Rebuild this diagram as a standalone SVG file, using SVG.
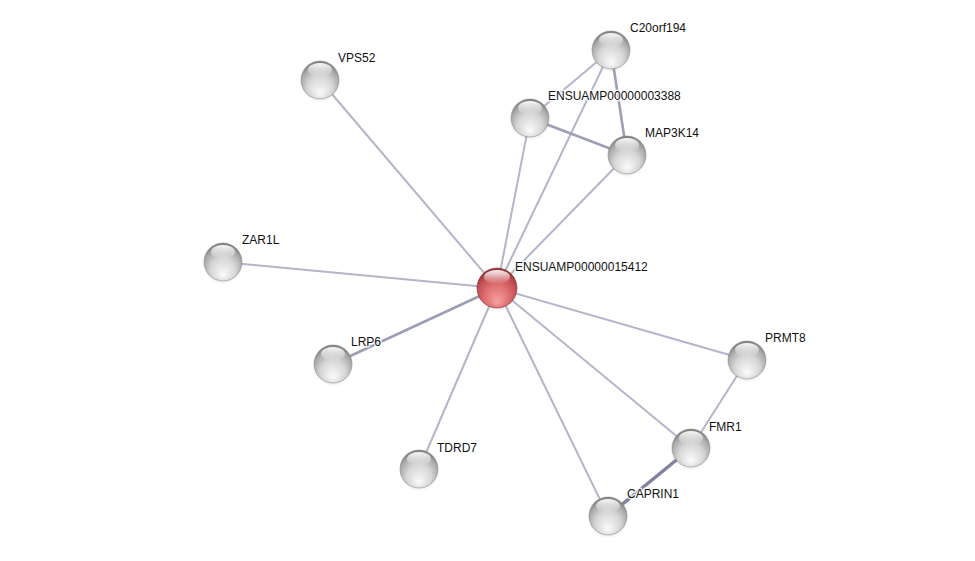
<svg xmlns="http://www.w3.org/2000/svg" width="975" height="561" viewBox="0 0 975 561">
<defs>
<radialGradient id="gBody" cx="0.5" cy="0.62" r="0.6" fx="0.5" fy="0.85">
<stop offset="0" stop-color="#fbfbfb"/>
<stop offset="0.55" stop-color="#d6d6d6"/>
<stop offset="0.85" stop-color="#a9a9a9"/>
<stop offset="1" stop-color="#7d7d7d"/>
</radialGradient>
<radialGradient id="rBody" cx="0.5" cy="0.62" r="0.6" fx="0.5" fy="0.85">
<stop offset="0" stop-color="#f7a2a2"/>
<stop offset="0.55" stop-color="#dc6a6d"/>
<stop offset="0.85" stop-color="#bd4b4f"/>
<stop offset="1" stop-color="#8e3236"/>
</radialGradient>
<linearGradient id="hl" x1="0" y1="0" x2="0" y2="1">
<stop offset="0" stop-color="#ffffff" stop-opacity="0.95"/>
<stop offset="1" stop-color="#ffffff" stop-opacity="0"/>
</linearGradient>
<radialGradient id="shadow" cx="0.5" cy="0.5" r="0.5">
<stop offset="0" stop-color="#000" stop-opacity="0.25"/>
<stop offset="1" stop-color="#000" stop-opacity="0"/>
</radialGradient>
<g id="sphere">
<ellipse cx="0" cy="4" rx="20" ry="19" fill="url(#shadow)"/>
<circle r="19" fill="url(#gBody)" stroke="#8a8a8a" stroke-width="0.6"/>
<ellipse cx="0" cy="-10" rx="12" ry="7" fill="url(#hl)"/>
</g>
<g id="sphereRed">
<ellipse cx="0" cy="4" rx="21" ry="20" fill="url(#shadow)"/>
<circle r="20" fill="url(#rBody)" stroke="#8a3034" stroke-width="0.6"/>
<ellipse cx="0" cy="-11" rx="13" ry="7" fill="url(#hl)"/>
</g>
</defs>
<style>
.e{stroke:#b3b5c9;stroke-width:2;fill:none}
.e2{stroke:#9c9fb8;stroke-width:2.6;fill:none}
.e3{stroke:#7f839f;stroke-width:3.4;fill:none}
text{font-family:"Liberation Sans",Arial,sans-serif;font-size:12px;fill:#111;paint-order:stroke;stroke:#fff;stroke-width:3;stroke-opacity:0.8;stroke-linejoin:round}
</style>
<rect width="975" height="561" fill="#fff"/>
<g id="edges">
<line class="e" x1="497" y1="288" x2="320" y2="80"/>
<line class="e" x1="497" y1="288" x2="223" y2="262"/>
<line class="e2" x1="497" y1="288" x2="333" y2="364"/>
<line class="e" x1="497" y1="288" x2="419" y2="469"/>
<line class="e" x1="497" y1="288" x2="747" y2="360"/>
<line class="e" x1="497" y1="288" x2="691" y2="448"/>
<line class="e" x1="497" y1="288" x2="608" y2="516"/>
<line class="e" x1="497" y1="288" x2="530" y2="118"/>
<line class="e" x1="497" y1="288" x2="611" y2="50"/>
<line class="e" x1="497" y1="288" x2="627" y2="155"/>
<line class="e" x1="611" y1="50" x2="530" y2="118"/>
<line class="e2" x1="611" y1="50" x2="627" y2="155"/>
<line class="e2" x1="530" y1="118" x2="627" y2="155"/>
<line class="e" x1="747" y1="360" x2="691" y2="448"/>
<line class="e3" x1="691" y1="448" x2="608" y2="516"/>
</g>
<g id="n-C20orf194"><use href="#sphere" x="611" y="50"/><text x="630" y="32">C20orf194</text></g>
<g id="n-ENSUAMP00000003388"><use href="#sphere" x="530" y="118"/><text x="548" y="100">ENSUAMP00000003388</text></g>
<g id="n-MAP3K14"><use href="#sphere" x="627" y="155"/><text x="645" y="137">MAP3K14</text></g>
<g id="n-VPS52"><use href="#sphere" x="320" y="80"/><text x="338" y="62">VPS52</text></g>
<g id="n-ZAR1L"><use href="#sphere" x="223" y="262"/><text x="242" y="244">ZAR1L</text></g>
<g id="n-LRP6"><use href="#sphere" x="333" y="364"/><text x="351" y="346">LRP6</text></g>
<g id="n-TDRD7"><use href="#sphere" x="419" y="469"/><text x="437" y="452">TDRD7</text></g>
<g id="n-PRMT8"><use href="#sphere" x="747" y="360"/><text x="765" y="342">PRMT8</text></g>
<g id="n-FMR1"><use href="#sphere" x="691" y="448"/><text x="709" y="431">FMR1</text></g>
<g id="n-CAPRIN1"><use href="#sphere" x="608" y="516"/><text x="627" y="498">CAPRIN1</text></g>
<g id="n-ENSUAMP00000015412"><use href="#sphereRed" x="497" y="288"/><text x="515" y="271">ENSUAMP00000015412</text></g>
</svg>
